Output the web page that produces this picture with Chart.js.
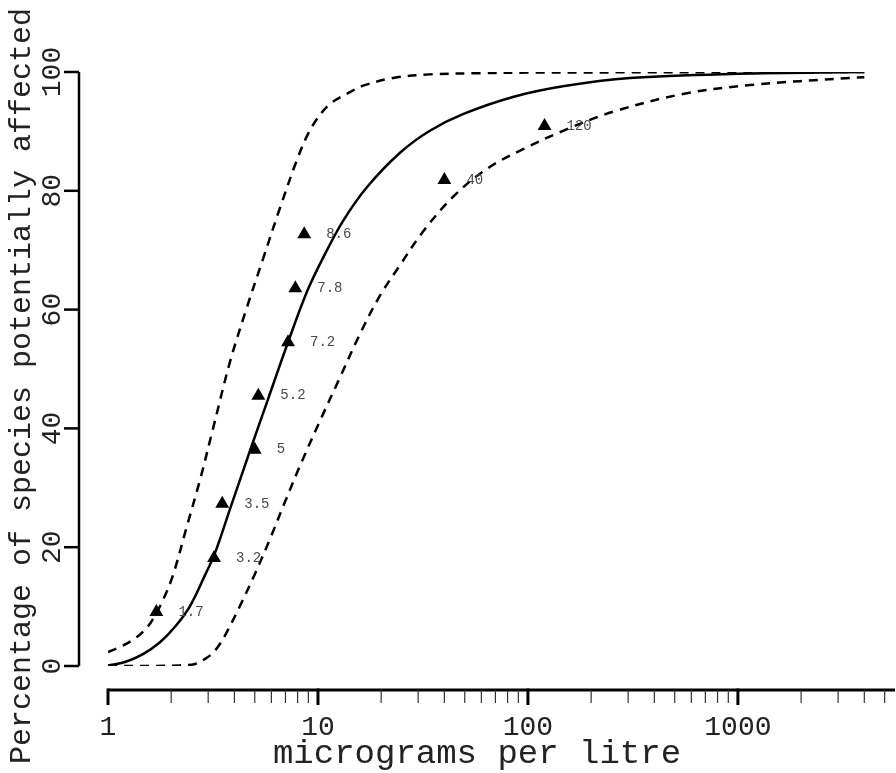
<!DOCTYPE html>
<html>
<head>
<meta charset="utf-8">
<script src="https://cdn.jsdelivr.net/npm/chart.js@4.4.1/dist/chart.umd.min.js"></script>
<style>
    html, body { margin: 0; padding: 0; background: #fff; }
    #wrap { width: 896px; height: 773px; }
</style>
</head>
<body>
<div id="wrap"><canvas id="ssdChart" width="896" height="773"></canvas></div>
<script>
// species toxicity values (micrograms per litre) and plotting positions (%)
const speciesConc = [1.7, 3.2, 3.5, 5, 5.2, 7.2, 7.8, 8.6, 40, 120];
const speciesPct = [9.1, 18.2, 27.3, 36.4, 45.5, 54.5, 63.6, 72.7, 81.8, 90.9];
const speciesLabels = ['1.7', '3.2', '3.5', '5', '5.2', '7.2', '7.8', '8.6', '40', '120'];

// fitted curve
const fitConc = [1, 1.205, 1.468, 1.768, 2.085, 2.458, 2.897, 3.232, 3.81, 4.74, 5.78, 7.2, 8.86, 10.57, 13.15, 17.1, 24.6, 34.1, 49, 84.8, 146.8, 306, 1000, 4000];
const fitPct = [0.1, 0.67, 2.0, 4.0, 6.6, 10.1, 15.3, 19.0, 26.4, 36.2, 44.9, 54.5, 63.0, 68.7, 74.9, 80.6, 86.4, 90.1, 92.9, 95.8, 97.6, 99.0, 99.7, 100];

// upper confidence limit
const upperConc = [1, 1.141, 1.315, 1.5, 1.638, 1.828, 2.04, 2.378, 2.742, 3.16, 3.81, 4.59, 5.47, 6.59, 7.94, 8.86, 9.89, 11.4, 14.2, 16.4, 22.8, 34.1, 59, 100, 4000];
const upperPct = [2.36, 3.2, 4.4, 6.1, 7.9, 11.1, 15.3, 23.6, 31.3, 39.9, 51.2, 60.4, 68.5, 77.1, 85.2, 89.2, 92.1, 94.6, 96.6, 97.7, 99.0, 99.6, 99.8, 99.9, 100];

// lower confidence limit
const lowerConc = [1, 1.585, 2.2, 2.6, 2.9, 3.16, 3.41, 3.68, 4.25, 5.01, 5.91, 6.96, 8.21, 10.2, 12.7, 15.85, 19.7, 24.6, 31.6, 44, 63.8, 94.7, 147, 254, 547, 1140, 3415, 4000];
const lowerPct = [0, 0, 0.1, 0.34, 1.2, 2.2, 3.7, 5.7, 10.1, 15.5, 21.4, 27.6, 33.7, 41.2, 48.5, 55.9, 62.3, 67.5, 73.1, 79.0, 83.7, 87.0, 90.1, 93.3, 96.3, 97.8, 99.0, 99.1];

// axes
const xMajorTicks = [1, 10, 100, 1000];
const xTickLabels = ['1', '10', '100', '1000'];
const xMinorTicks = [2, 3, 4, 5, 6, 7, 8, 9, 20, 30, 40, 50, 60, 70, 80, 90,
    200, 300, 400, 500, 600, 700, 800, 900, 2000, 3000, 4000, 5000];
const yTicks = [0, 20, 40, 60, 80, 100];
const xTitle = 'micrograms per litre';
const yTitle = 'Percentage of species potentially affected';

const MONO = "'Liberation Mono', 'Courier New', monospace";

function toPoints(xs, ys) {
    return xs.map((x, i) => ({ x: x, y: ys[i] }));
}

// axes are drawn away from the plot, like base R graphics
const detachedAxes = {
    id: 'detachedAxes',
    afterDraw(chart) {
        const ctx = chart.ctx;
        const xs = chart.scales.x;
        const ys = chart.scales.y;
        const area = chart.chartArea;
        ctx.save();
        ctx.strokeStyle = '#000';
        ctx.fillStyle = '#222';

        // y axis
        const yAxisX = 79;
        ctx.lineWidth = 2.5;
        ctx.beginPath();
        ctx.moveTo(yAxisX, ys.getPixelForValue(0));
        ctx.lineTo(yAxisX, ys.getPixelForValue(100));
        ctx.stroke();
        ctx.font = '28px ' + MONO;
        ctx.textAlign = 'center';
        ctx.textBaseline = 'middle';
        yTicks.forEach(v => {
            const py = ys.getPixelForValue(v);
            ctx.beginPath();
            ctx.moveTo(yAxisX, py);
            ctx.lineTo(yAxisX - 15, py);
            ctx.stroke();
            ctx.save();
            ctx.translate(53, py);
            ctx.rotate(-Math.PI / 2);
            ctx.fillText(String(v), 0, 0);
            ctx.restore();
        });

        // x axis
        const xAxisY = 690;
        ctx.lineWidth = 3;
        ctx.beginPath();
        ctx.moveTo(xs.getPixelForValue(1), xAxisY);
        ctx.lineTo(area.right, xAxisY);
        ctx.stroke();
        ctx.lineWidth = 1.2;
        ctx.strokeStyle = '#333';
        xMinorTicks.forEach(v => {
            const px = xs.getPixelForValue(v);
            if (px > area.right) return;
            ctx.beginPath();
            ctx.moveTo(px, xAxisY);
            ctx.lineTo(px, xAxisY + 13);
            ctx.stroke();
        });
        ctx.lineWidth = 3;
        ctx.strokeStyle = '#000';
        ctx.textBaseline = 'top';
        xMajorTicks.forEach((v, i) => {
            const px = xs.getPixelForValue(v);
            ctx.beginPath();
            ctx.moveTo(px, xAxisY - 1.5);
            ctx.lineTo(px, xAxisY + 15);
            ctx.stroke();
            ctx.fillText(xTickLabels[i], px, 714);
        });

        // titles
        ctx.font = '34px ' + MONO;
        ctx.textBaseline = 'alphabetic';
        ctx.fillText(xTitle, 477, 763);
        ctx.font = '30px ' + MONO;
        ctx.save();
        ctx.translate(30, 386);
        ctx.rotate(-Math.PI / 2);
        ctx.fillText(yTitle, 0, 0);
        ctx.restore();
        ctx.restore();
    }
};

// small value labels to the right of each triangle
const pointValueLabels = {
    id: 'pointValueLabels',
    afterDatasetsDraw(chart) {
        const ctx = chart.ctx;
        const meta = chart.getDatasetMeta(3);
        ctx.save();
        ctx.font = '14px ' + MONO;
        ctx.fillStyle = '#4a4a4a';
        ctx.textAlign = 'left';
        ctx.textBaseline = 'middle';
        meta.data.forEach((pt, i) => {
            ctx.fillText(speciesLabels[i], pt.x + 22, pt.y);
        });
        ctx.restore();
    }
};

const lineStyle = {
    showLine: true,
    borderColor: '#000',
    borderWidth: 2.5,
    pointRadius: 0,
    tension: 0.35,
    fill: false
};

const ctx = document.getElementById('ssdChart').getContext('2d');
new Chart(ctx, {
    type: 'scatter',
    data: {
        datasets: [
            Object.assign({ label: 'fitted', data: toPoints(fitConc, fitPct) }, lineStyle),
            Object.assign({ label: 'upper', data: toPoints(upperConc, upperPct), borderDash: [9, 7] }, lineStyle),
            Object.assign({ label: 'lower', data: toPoints(lowerConc, lowerPct), borderDash: [9, 7] }, lineStyle),
            {
                label: 'species',
                data: toPoints(speciesConc, speciesPct),
                showLine: false,
                pointStyle: 'triangle',
                pointRadius: 8,
                backgroundColor: '#000',
                borderColor: '#000',
                borderWidth: 0
            }
        ]
    },
    options: {
        responsive: false,
        animation: false,
        devicePixelRatio: 1,
        layout: { autoPadding: false, padding: { left: 108, right: 1, top: 72, bottom: 107 } },
        scales: {
            x: { type: 'logarithmic', min: 1, max: 5600, display: false },
            y: { type: 'linear', min: 0, max: 100, display: false }
        },
        plugins: {
            legend: { display: false },
            tooltip: { enabled: false }
        }
    },
    plugins: [detachedAxes, pointValueLabels]
});
</script>
</body>
</html>
